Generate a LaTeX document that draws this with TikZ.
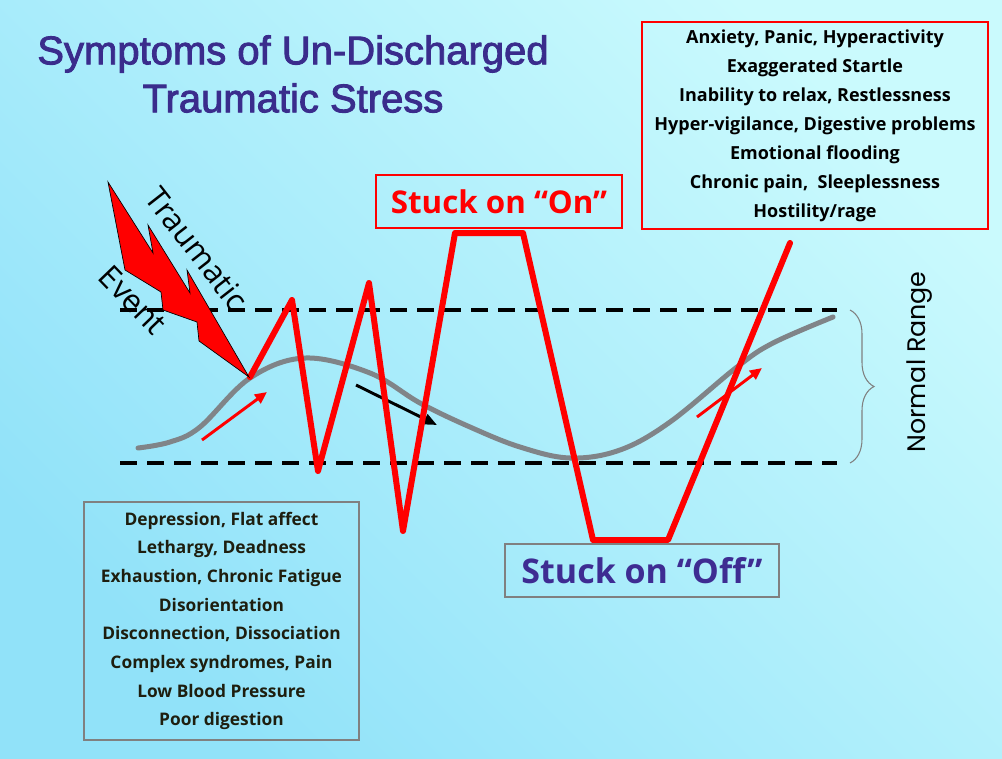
\documentclass[tikz,border=0pt]{standalone}
\usepackage{fontspec}
\setmainfont{Open Sans}
\newfontfamily\titlefont{Liberation Sans}[FakeBold=2.2]
\newfontfamily\rangefont{Poppins}
\usepackage{tikz}
\usetikzlibrary{arrows.meta, decorations.pathreplacing}

\definecolor{bgdark}{RGB}{145,226,249}
\definecolor{bglight}{RGB}{202,250,253}
\definecolor{titleblue}{RGB}{58,44,140}
\definecolor{offblue}{RGB}{62,44,146}
\definecolor{curvegray}{RGB}{128,132,136}
\definecolor{textdark}{RGB}{30,30,15}

\tikzset{
  symbox/.style={draw=red, line width=0.8pt, align=center, inner sep=0pt},
  graybox/.style={symbox, draw=gray},
  rangeline/.style={line width=3pt, dash pattern=on 12.75pt off 7.5pt},
  zigzag/.style={red, line width=4.5pt, line join=round, line cap=round},
  wave/.style={curvegray, line width=3.75pt, line cap=round},
  riseArrow/.style={red, line width=2.2pt, -{Triangle[length=9pt, width=8pt]}},
  fallArrow/.style={black, line width=2.2pt, -{Triangle[length=10pt, width=8pt]}},
  bolt/.style={fill=red, draw=black, line width=0.5pt, line join=miter}
}

\begin{document}
\begin{tikzpicture}[x=0.75pt, y=-0.75pt]
    \shade[top color=bglight, bottom color=bgdark, shading angle=-45] (0,0) rectangle (1002,758);
    \useasboundingbox (0,0) rectangle (1002,758);

    % title
    \node[align=center, text=titleblue, font=\titlefont\fontsize{30}{36}\selectfont] (title) at (293,74) {Symptoms of Un-Discharged\\Traumatic Stress};

    % normal range
    \draw[rangeline] (120,310) -- (837,310);
    \draw[rangeline] (120,463) -- (837,463);
    \draw[gray, line width=0.8pt, decorate, decoration={brace, amplitude=18pt}] (850,310) -- (850,463);
    \node[rotate=90, font=\rangefont\fontsize{19}{19}\selectfont] (range) at (920,362) {Normal Range};

    \draw[wave] plot[smooth, tension=0.6] coordinates {(138,448) (170,442) (200,427) (250,378) (305,358) (370,373) (420,403) (470,427) (520,447) (570,458) (620,450) (670,422) (737,367) (773,343) (833,317)};

    \draw[fallArrow] (356,385) -- (437,425);
    \draw[riseArrow] (202,440) -- (267,392);
    \draw[riseArrow] (697,417) -- (762,368);

    \draw[zigzag] (250,377) -- (292,300) -- (318,471) -- (369,283) -- (403,531) -- (455,233) -- (523,233) -- (593,540) -- (668,540) -- (790,243);

    % traumatic event
    \filldraw[bolt] (108,182) -- (153,253) -- (148,225) -- (190,293) -- (187,270) -- (249,377) -- (199,341) -- (197,322) -- (163,310) -- (161,292) -- (125,270) -- cycle;
    \node[rotate=-52, font=\fontsize{23.5}{23.5}\selectfont] (trauma) at (197,249) {Traumatic};
    \node[rotate=-46, font=\fontsize{23.5}{23.5}\selectfont] (event) at (133,300) {Event};

    % symptom boxes
    \node[symbox, minimum width=259.5pt, minimum height=155.25pt, font=\fontsize{13.5}{21.75}\selectfont\bfseries] (hyper) at (815,125.5) {
        Anxiety, Panic, Hyperactivity\\
        Exaggerated Startle\\
        Inability to relax, Restlessness\\
        Hyper-vigilance, Digestive problems\\
        Emotional flooding\\
        Chronic pain,\ \ Sleeplessness\\
        Hostility/rage};
    \node[symbox, minimum width=184.5pt, minimum height=39.75pt, text=red, font=\fontsize{23.5}{23.5}\selectfont\bfseries] (on) at (499,201.5) {Stuck on “On”};
    \node[graybox, minimum width=205.5pt, minimum height=39.75pt, text=offblue, font=\fontsize{25.5}{25.5}\selectfont\bfseries] (off) at (642,570.5) {Stuck on “Off”};
    \node[graybox, minimum width=206.25pt, minimum height=178.5pt, text=textdark, font=\fontsize{13}{21.5}\selectfont\bfseries] (hypo) at (221.5,621) {
        Depression, Flat affect\\
        Lethargy, Deadness\\
        Exhaustion, Chronic Fatigue\\
        Disorientation\\
        Disconnection, Dissociation\\
        Complex syndromes, Pain\\
        Low Blood Pressure\\
        Poor digestion};
\end{tikzpicture}
\end{document}
